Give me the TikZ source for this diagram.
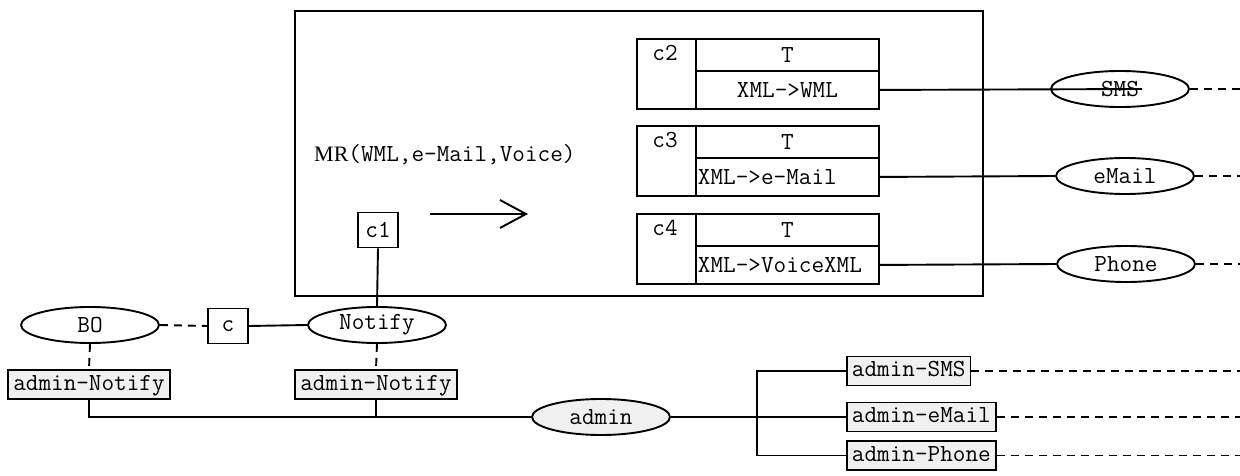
\documentclass[tikz,border=0pt]{standalone}
\usepackage{fontspec}
\setmainfont{Liberation Serif}
\usetikzlibrary{shapes.geometric, arrows.meta}
\definecolor{boxgray}{HTML}{F0F0F0}
\begin{document}
\begin{tikzpicture}[x=1pt, y=-1pt,
  every node/.style={font=\ttfamily\fontsize{24.5}{27}\selectfont},
  ln/.style={line width=1.9pt},
  dsh/.style={line width=1.9pt, dash pattern=on 8pt off 6pt},
  box/.style={draw, line width=1.9pt, inner sep=0pt},
  gbox/.style={draw, line width=1.9pt, fill=boxgray, inner xsep=5pt, inner ysep=0pt,
    minimum height=29pt, text height=15pt, text depth=4pt},
  oval/.style={draw, ellipse, line width=1.9pt, inner sep=0pt,
    minimum width=138pt, minimum height=36pt},
]
\useasboundingbox (0,0) rectangle (1240,476);

% main container
\node[box, minimum width=688pt, minimum height=285pt, anchor=north west] (mr) at (294,10) {};
\node[anchor=base west, inner sep=0pt] (mrlabel) at (314,161)
  {{\rmfamily\fontsize{22}{24}\selectfont MR}(WML,e-Mail,Voice)};

\node[box, minimum width=40pt, minimum height=35pt] (c1) at (378,230) {c1};
\coordinate (arrA) at (430,214);
\coordinate (arrB) at (528,214);
\draw[ln, -{Straight Barb[length=26pt,width=28pt]}] (arrA) -- (arrB);

% c2
\node[box, minimum width=59pt, minimum height=70pt, anchor=north west] (c2L) at (636,38) {};
\node[box, minimum width=183pt, minimum height=32pt, anchor=north west] (c2T) at (695,38) {T};
\node[box, minimum width=183pt, minimum height=38pt, anchor=north west] (c2X) at (695,70) {XML->WML};
\node (c2n) at (665,53) {c2};
% c3
\node[box, minimum width=59pt, minimum height=70pt, anchor=north west] (c3L) at (636,125) {};
\node[box, minimum width=183pt, minimum height=32pt, anchor=north west] (c3T) at (695,125) {T};
\node[box, minimum width=183pt, minimum height=38pt, anchor=north west,
  text width=179pt, align=left] (c3X) at (695,157) {XML->e-Mail};
\node (c3n) at (665,140) {c3};
% c4
\node[box, minimum width=59pt, minimum height=70pt, anchor=north west] (c4L) at (636,213) {};
\node[box, minimum width=183pt, minimum height=32pt, anchor=north west] (c4T) at (695,213) {T};
\node[box, minimum width=183pt, minimum height=38pt, anchor=north west,
  text width=179pt, align=left] (c4X) at (695,245) {XML->VoiceXML};
\node (c4n) at (665,228) {c4};

% right ellipses
\node[oval] (sms) at (1120,89) {SMS};
\node[oval] (email) at (1125,176) {eMail};
\node[oval] (phone) at (1126,264) {Phone};
\coordinate (smsEnd) at (1142,89);
\draw[ln] (c2X.east) -- (smsEnd);
\draw[ln] (c3X.east) -- (email.west);
\draw[ln] (c4X.east) -- (phone.west);
\coordinate (smsR) at (1240,89);
\coordinate (emailR) at (1240,176);
\coordinate (phoneR) at (1240,264);
\draw[dsh] (sms.east) -- (smsR);
\draw[dsh] (email.east) -- (emailR);
\draw[dsh] (phone.east) -- (phoneR);

% bottom
\node[oval] (bo) at (90,325) {BO};
\node[box, minimum width=40pt, minimum height=35pt] (c) at (228,326) {c};
\node[oval] (notify) at (377,325) {Notify};
\node[gbox] (anL) at (89,384.5) {admin-Notify};
\node[gbox] (anR) at (376,384.5) {admin-Notify};
\node[oval, fill=boxgray] (admin) at (601,417) {admin};
\node[gbox, anchor=west] (aSMS) at (846,371) {admin-SMS};
\node[gbox, anchor=west] (aeMail) at (846,417) {admin-eMail};
\node[gbox, anchor=west] (aPhone) at (846,455.5) {admin-Phone};
\coordinate (br) at (757,417);

\draw[dsh] (bo.east) -- (c.west);
\draw[ln] (c.east) -- (notify.west);
\draw[ln] (c1.south) -- (notify.north);
\draw[dsh] (bo.south) -- (anL.north);
\draw[dsh] (notify.south) -- (anR.north);
\draw[ln] (anL.south) |- (admin.west);
\draw[ln] (anR.south) -- (anR.south |- admin.west);
\draw[ln] (admin.east) -- (aeMail.west);
\draw[ln] (aSMS.west) -| (br) |- (aPhone.west);

\coordinate (aSMSR) at (1240,371);
\coordinate (aeMailR) at (1240,417);
\coordinate (aPhoneR) at (1240,455.5);
\draw[dsh] (aSMS.east) -- (aSMSR);
\draw[dsh] (aeMail.east) -- (aeMailR);
\draw[dsh] (aPhone.east) -- (aPhoneR);
\end{tikzpicture}
\end{document}
